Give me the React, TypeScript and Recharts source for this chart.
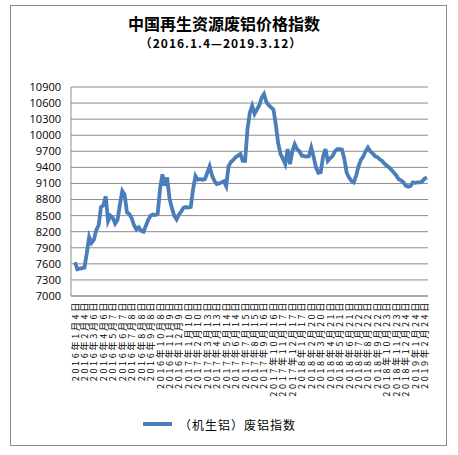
import { LineChart, Line, XAxis, YAxis, CartesianGrid, Legend } from 'recharts'

// every 4th point carries an axis label
const dateLabels = [
  '2016年1月4日', '2016年2月4日', '2016年3月6日', '2016年4月6日', '2016年5月7日', '2016年6月7日',
  '2016年7月8日', '2016年8月8日', '2016年9月8日', '2016年10月8日', '2016年11月9日', '2016年12月9日',
  '2017年1月10日', '2017年2月10日', '2017年3月13日', '2017年4月13日', '2017年5月14日', '2017年6月14日',
  '2017年7月15日', '2017年8月15日', '2017年9月16日', '2017年10月16日', '2017年11月17日', '2017年12月17日',
  '2018年1月17日', '2018年2月20日', '2018年3月20日', '2018年4月21日', '2018年5月21日', '2018年6月21日',
  '2018年7月22日', '2018年8月22日', '2018年9月22日', '2018年10月23日', '2018年11月23日', '2018年12月24日',
  '2019年1月24日', '2019年2月24日',
]

const indexValues = [
  7630, 7500, 7510, 7520, 7530, 7800, 8100, 7990, 8050, 8230,
  8320, 8660, 8690, 8860, 8400, 8500, 8460, 8350, 8420, 8700,
  8960, 8890, 8560, 8530, 8450, 8320, 8240, 8280, 8220, 8200,
  8310, 8420, 8500, 8520, 8510, 8530, 9000, 9270, 9060, 9210,
  8820, 8640, 8500, 8430, 8520, 8580, 8650, 8660, 8650, 8660,
  9000, 9240, 9170, 9180, 9170, 9180, 9300, 9420, 9250, 9150,
  9090, 9100, 9120, 9140, 9050, 9420, 9500, 9540, 9590, 9620,
  9650, 9520, 9520, 10110, 10420, 10550, 10400, 10480, 10560, 10700,
  10770, 10620, 10560, 10520, 10480, 10200, 9850, 9650, 9560, 9460,
  9740, 9460, 9700, 9830, 9740, 9700, 9620, 9610, 9600, 9610,
  9770, 9600, 9400, 9300, 9310, 9600, 9740, 9520, 9570, 9610,
  9700, 9740, 9740, 9730, 9560, 9300, 9210, 9150, 9120, 9240,
  9420, 9540, 9600, 9700, 9770, 9700, 9660, 9610, 9590, 9550,
  9520, 9470, 9430, 9400, 9350, 9300, 9250, 9180, 9160, 9120,
  9060, 9040, 9050, 9120, 9110, 9120, 9120, 9140, 9190, 9210,
]

const yTicks = [7000, 7300, 7600, 7900, 8200, 8500, 8800, 9100, 9400, 9700, 10000, 10300, 10600, 10900]

const data = indexValues.map((value, i) => ({
  date: i % 4 === 0 ? dateLabels[i / 4] : `p${i}`,
  value,
}))

const lineColor = '#4a7ebb'
const gridColor = '#8c8c8c'
const cjkFont = '"Noto Sans CJK SC", "Noto Sans", sans-serif'

const DateTick = ({ x, y, payload }: any) => (
  <text
    x={x}
    y={y}
    transform={`rotate(-90 ${x} ${y})`}
    textAnchor="end"
    dominantBaseline="central"
    fontSize={9}
    letterSpacing={2.7}
    fontFamily={cjkFont}
    fill="#000"
  >
    {payload.value}
  </text>
)

const LegendBox = () => (
  <div style={{ display: 'flex', justifyContent: 'center', alignItems: 'center', height: 20 }}>
    <span style={{ display: 'inline-block', width: 29, height: 4, background: lineColor, marginRight: 7 }} />
    <span style={{ fontFamily: cjkFont, fontSize: 12, letterSpacing: 1, color: '#000' }}>（机生铝）废铝指数</span>
  </div>
)

export default function App() {
  return (
    <div style={{ position: 'absolute', left: 0, top: 0, width: 458, height: 455, background: '#fff' }}>
      <div
        style={{
          position: 'absolute', left: 10, top: 5, width: 435, height: 439,
          border: '1px solid #8a8a8a',
        }}
      />
      <div
        style={{
          position: 'absolute', left: 0, top: 12, width: 448, textAlign: 'center',
          fontFamily: cjkFont, fontWeight: 'bold', fontSize: 16, lineHeight: '22px',
        }}
      >
        中国再生资源废铝价格指数
      </div>
      <div
        style={{
          position: 'absolute', left: 0, top: 34, width: 442, textAlign: 'center',
          fontFamily: cjkFont, fontWeight: 'bold', fontSize: 12, lineHeight: '18px', letterSpacing: 1,
        }}
      >
        （2016.1.4—2019.3.12）
      </div>
      <div style={{ position: 'absolute', left: 0, top: 0 }}>
        <LineChart width={458} height={455} data={data} margin={{ top: 87, right: 30, left: 11, bottom: 21 }}>
          <CartesianGrid vertical={false} stroke={gridColor} strokeWidth={1} />
          <XAxis
            dataKey="date"
            interval={3}
            height={118}
            tick={<DateTick />}
            tickLine={false}
            tickSize={2}
            tickMargin={2}
            axisLine={{ stroke: gridColor }}
            padding={{ left: 4, right: 1 }}
          />
          <YAxis
            domain={[7000, 10900]}
            ticks={yTicks}
            interval={0}
            width={60}
            tickLine={false}
            tickMargin={4}
            axisLine={{ stroke: gridColor }}
            tick={{ fontSize: 11, fill: '#000', fontFamily: '"Open Sans", sans-serif' }}
          />
          <Legend verticalAlign="bottom" height={20} content={<LegendBox />} />
          <Line
            type="linear"
            dataKey="value"
            stroke={lineColor}
            strokeWidth={3.8}
            dot={false}
            isAnimationActive={false}
          />
        </LineChart>
      </div>
    </div>
  )
}
